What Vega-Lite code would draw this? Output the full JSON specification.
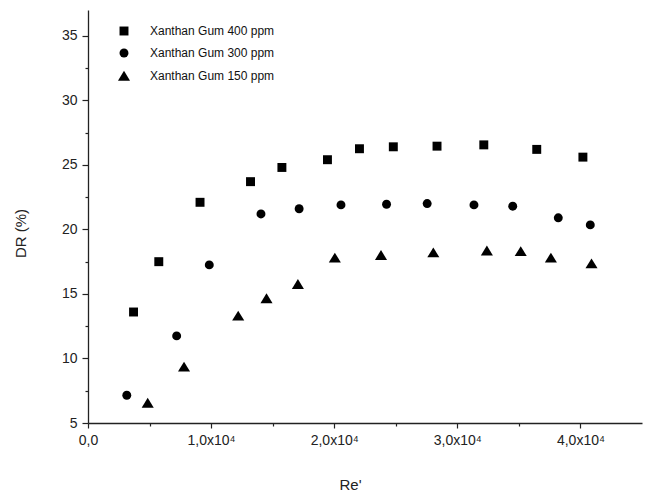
{
  "$schema": "https://vega.github.io/schema/vega-lite/v6.json",
  "width": 554,
  "height": 413,
  "autosize": {"type": "none"},
  "padding": {"left": 88, "top": 10, "right": 9, "bottom": 74},
  "background": "white",
  "config": {
    "view": {"stroke": null},
    "font": "Liberation Sans"
  },
  "data": {
    "values": [
      {"series": "Xanthan Gum 400 ppm", "Re": 3700, "DR": 13.6},
      {"series": "Xanthan Gum 400 ppm", "Re": 5750, "DR": 17.5},
      {"series": "Xanthan Gum 400 ppm", "Re": 9100, "DR": 22.1},
      {"series": "Xanthan Gum 400 ppm", "Re": 13200, "DR": 23.7},
      {"series": "Xanthan Gum 400 ppm", "Re": 15750, "DR": 24.8},
      {"series": "Xanthan Gum 400 ppm", "Re": 19450, "DR": 25.4},
      {"series": "Xanthan Gum 400 ppm", "Re": 22050, "DR": 26.25},
      {"series": "Xanthan Gum 400 ppm", "Re": 24800, "DR": 26.4},
      {"series": "Xanthan Gum 400 ppm", "Re": 28350, "DR": 26.45},
      {"series": "Xanthan Gum 400 ppm", "Re": 32150, "DR": 26.55},
      {"series": "Xanthan Gum 400 ppm", "Re": 36450, "DR": 26.2},
      {"series": "Xanthan Gum 400 ppm", "Re": 40200, "DR": 25.6},
      {"series": "Xanthan Gum 300 ppm", "Re": 3150, "DR": 7.15},
      {"series": "Xanthan Gum 300 ppm", "Re": 7200, "DR": 11.75},
      {"series": "Xanthan Gum 300 ppm", "Re": 9850, "DR": 17.25},
      {"series": "Xanthan Gum 300 ppm", "Re": 14050, "DR": 21.2},
      {"series": "Xanthan Gum 300 ppm", "Re": 17150, "DR": 21.6},
      {"series": "Xanthan Gum 300 ppm", "Re": 20550, "DR": 21.9},
      {"series": "Xanthan Gum 300 ppm", "Re": 24250, "DR": 21.95},
      {"series": "Xanthan Gum 300 ppm", "Re": 27550, "DR": 22.0},
      {"series": "Xanthan Gum 300 ppm", "Re": 31350, "DR": 21.9},
      {"series": "Xanthan Gum 300 ppm", "Re": 34500, "DR": 21.8},
      {"series": "Xanthan Gum 300 ppm", "Re": 38200, "DR": 20.9},
      {"series": "Xanthan Gum 300 ppm", "Re": 40800, "DR": 20.35},
      {"series": "Xanthan Gum 150 ppm", "Re": 4850, "DR": 6.55},
      {"series": "Xanthan Gum 150 ppm", "Re": 7800, "DR": 9.35},
      {"series": "Xanthan Gum 150 ppm", "Re": 12200, "DR": 13.3},
      {"series": "Xanthan Gum 150 ppm", "Re": 14500, "DR": 14.65},
      {"series": "Xanthan Gum 150 ppm", "Re": 17050, "DR": 15.75},
      {"series": "Xanthan Gum 150 ppm", "Re": 20050, "DR": 17.8},
      {"series": "Xanthan Gum 150 ppm", "Re": 23800, "DR": 18.0},
      {"series": "Xanthan Gum 150 ppm", "Re": 28050, "DR": 18.2},
      {"series": "Xanthan Gum 150 ppm", "Re": 32400, "DR": 18.35},
      {"series": "Xanthan Gum 150 ppm", "Re": 35150, "DR": 18.3},
      {"series": "Xanthan Gum 150 ppm", "Re": 37600, "DR": 17.8},
      {"series": "Xanthan Gum 150 ppm", "Re": 40900, "DR": 17.35}
    ]
  },
  "mark": {"type": "point", "filled": true, "opacity": 1, "color": "black", "size": 80},
  "encoding": {
    "x": {
      "field": "Re",
      "type": "quantitative",
      "scale": {"domain": [0, 45000], "nice": false, "zero": false},
      "axis": {
        "title": "Re'",
        "values": [0, 5000, 10000, 15000, 20000, 25000, 30000, 35000, 40000],
        "labelExpr": "datum.value % 10000 == 0 ? (datum.value == 0 ? '0,0' : (datum.value / 10000) + ',0x10⁴') : ''",
        "grid": false,
        "domainColor": "#222",
        "domainWidth": 1.3,
        "tickColor": "#222",
        "tickWidth": 1.2,
        "tickSize": {"condition": {"test": "datum.value % 10000 != 0", "value": 3}, "value": 5},
        "labelFontSize": 14,
        "labelColor": "#222",
        "labelPadding": 5,
        "labelFlush": false,
        "titleFontSize": 15,
        "titleFontWeight": "normal",
        "titleColor": "#222",
        "titleX": 262,
        "titleY": 61,
        "titleBaseline": "middle"
      }
    },
    "y": {
      "field": "DR",
      "type": "quantitative",
      "scale": {"domain": [5, 37], "nice": false, "zero": false},
      "axis": {
        "title": "DR (%)",
        "values": [5, 7.5, 10, 12.5, 15, 17.5, 20, 22.5, 25, 27.5, 30, 32.5, 35],
        "labelExpr": "datum.value % 5 == 0 ? datum.label : ''",
        "grid": false,
        "domainColor": "#222",
        "domainWidth": 1.3,
        "tickColor": "#222",
        "tickWidth": 1.2,
        "tickSize": {"condition": {"test": "datum.value % 5 != 0", "value": 3}, "value": 6},
        "labelFontSize": 14,
        "labelColor": "#222",
        "labelPadding": 5,
        "labelFlush": false,
        "titleFontSize": 15,
        "titleFontWeight": "normal",
        "titleColor": "#222",
        "titleX": -68,
        "titleY": 223,
        "titleBaseline": "middle"
      }
    },
    "shape": {
      "field": "series",
      "type": "nominal",
      "scale": {
        "domain": ["Xanthan Gum 400 ppm", "Xanthan Gum 300 ppm", "Xanthan Gum 150 ppm"],
        "range": ["square", "circle", "M0,-1.15L1.35,1.05L-1.35,1.05Z"]
      },
      "legend": {
        "title": null,
        "orient": "none",
        "legendX": 30,
        "legendY": 15,
        "symbolFillColor": "black",
        "symbolStrokeColor": "black",
        "symbolSize": 80,
        "labelFont": "Liberation Sans",
        "labelFontSize": 12,
        "labelColor": "#111",
        "labelOffset": 20,
        "rowPadding": 6
      }
    }
  }
}
